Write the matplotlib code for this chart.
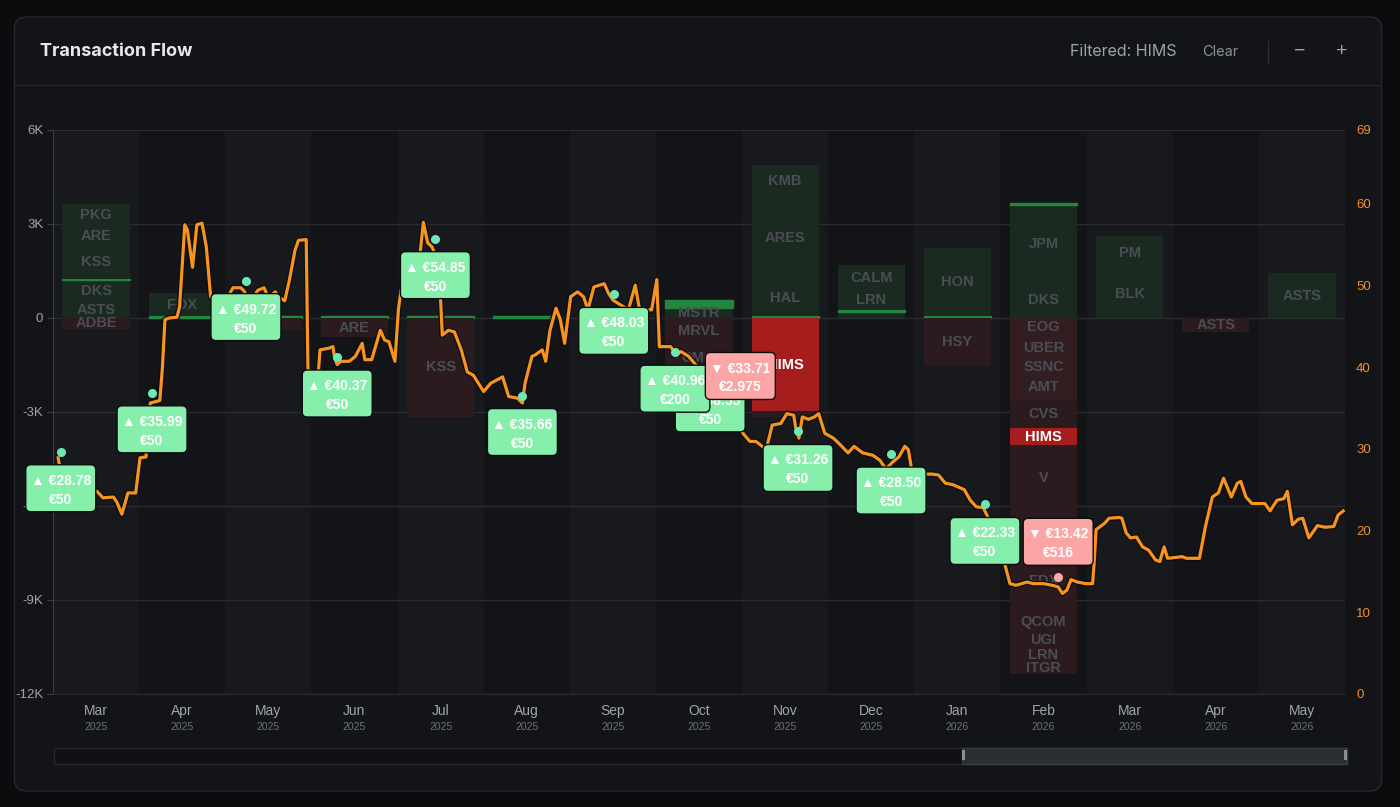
import matplotlib
matplotlib.use('Agg')
import matplotlib.pyplot as plt
import matplotlib.patches as mpatches
import matplotlib.transforms as mtransforms
import matplotlib.patheffects as pe
from matplotlib.lines import Line2D

W, H = 1400, 807

months = ['Mar', 'Apr', 'May', 'Jun', 'Jul', 'Aug', 'Sep', 'Oct', 'Nov', 'Dec',
          'Jan', 'Feb', 'Mar', 'Apr', 'May']
years = ['2025'] * 10 + ['2026'] * 5

# monthly flow per ticker (EUR), buys stacked up from 0, sells stacked down
pos_tickers = [['ASTS', 'DKS', 'HIMS', 'KSS', 'ARE', 'PKG'], ['HIMS', 'FOX'], ['HIMS'],
               ['HIMS'], ['HIMS'], ['HIMS'], ['HIMS'], ['MSTR', 'HIMS'],
               ['HIMS', 'HAL', 'ARES', 'KMB'], ['', 'HIMS', 'LRN', 'CALM'], ['HIMS', 'HON'],
               ['DKS', 'JPM', 'HIMS'], ['BLK', 'PM'], [], ['ASTS']]
pos_values = [[540, 670, 50, 1030, 640, 700], [50, 750], [50],
              [50], [50], [50], [50], [320, 250],
              [50, 1160, 2680, 990], [200, 50, 620, 830], [50, 2180],
              [1120, 2490, 50], [1530, 1090], [], [1430]]
neg_tickers = [['ADBE'], [], [''], ['ARE'], ['KSS'], [], [], ['MRVL', 'CMG', ''],
               ['HIMS', ''], [], ['HSY'],
               ['EOG', 'UBER', 'SSNC', 'AMT', 'CVS', 'HIMS', 'V', '', 'FDX', 'QCOM', 'UGI', 'LRN', 'ITGR'],
               [], ['ASTS'], []]
neg_values = [[350], [], [380], [610], [3150], [], [], [860, 830, 600],
              [2975, 200], [], [1530],
              [606, 702, 543, 724, 951, 516, 2106, 1245, 1979, 638, 543, 415, 383],
              [], [450], []]

# HIMS price, x in months since 1 Mar 2025
line_t = [0.06, 0.12, 0.27, 0.44, 0.51, 0.58, 0.70, 0.74, 0.80, 0.87,
          0.96, 1.01, 1.08, 1.10, 1.13, 1.24, 1.27, 1.30, 1.35, 1.44,
          1.47, 1.53, 1.56, 1.62, 1.67, 1.73, 1.78, 1.83, 1.89, 2.01,
          2.09, 2.18, 2.21, 2.26, 2.32, 2.38, 2.45, 2.50, 2.58, 2.62,
          2.69, 2.74, 2.81, 2.85, 2.94, 2.96, 3.08, 3.10, 3.20, 3.25,
          3.27, 3.30, 3.34, 3.44, 3.51, 3.59, 3.62, 3.70, 3.80, 3.85,
          3.90, 3.97, 4.01, 4.04, 4.15, 4.26, 4.30, 4.35, 4.40, 4.44,
          4.50, 4.52, 4.59, 4.66, 4.74, 4.81, 4.88, 5.00, 5.08, 5.15,
          5.22, 5.29, 5.39, 5.45, 5.48, 5.56, 5.60, 5.68, 5.72, 5.77,
          5.84, 5.89, 5.94, 6.01, 6.09, 6.16, 6.21, 6.28, 6.40, 6.45,
          6.50, 6.59, 6.68, 6.76, 6.81, 6.95, 7.01, 7.04, 7.17, 7.24,
          7.29, 7.38, 7.46, 7.54, 7.69, 7.84, 8.01, 8.09, 8.16, 8.21,
          8.28, 8.35, 8.45, 8.52, 8.60, 8.62, 8.66, 8.70, 8.77, 8.84,
          8.89, 8.96, 9.06, 9.14, 9.23, 9.30, 9.40, 9.52, 9.60, 9.67,
          9.75, 9.82, 9.89, 9.93, 9.97, 10.04, 10.14, 10.21, 10.28, 10.36,
          10.45, 10.58, 10.65, 10.72, 10.80, 10.87, 10.97, 11.06, 11.11, 11.18,
          11.31, 11.38, 11.50, 11.60, 11.67, 11.72, 11.77, 11.82, 11.89, 11.99,
          12.07, 12.09, 12.11, 12.16, 12.21, 12.26, 12.38, 12.41, 12.46, 12.51,
          12.58, 12.65, 12.72, 12.80, 12.85, 12.90, 12.94, 13.02, 13.11, 13.16,
          13.31, 13.38, 13.46, 13.53, 13.59, 13.68, 13.75, 13.79, 13.85, 13.92,
          14.07, 14.13, 14.21, 14.29, 14.33, 14.39, 14.46, 14.51, 14.58, 14.68,
          14.77, 14.87, 14.92, 14.98]
line_p = [28.9, 25.2, 25.0, 25.0, 24.8, 24.0, 24.1, 23.5, 22.0, 24.6,
          24.6, 28.9, 29.0, 32.3, 35.6, 35.9, 39.9, 45.8, 46.0, 46.1,
          47.4, 57.4, 56.8, 52.2, 57.4, 57.6, 54.7, 48.6, 48.2, 48.2,
          49.7, 49.7, 49.4, 48.6, 48.5, 49.4, 49.7, 48.5, 49.2, 48.6,
          48.1, 50.4, 54.3, 55.5, 55.6, 39.6, 39.2, 42.1, 42.3, 42.5,
          41.1, 40.3, 40.7, 40.7, 41.3, 42.9, 40.9, 40.9, 44.5, 43.3,
          43.1, 40.7, 47.0, 49.4, 51.3, 53.7, 57.7, 55.2, 54.7, 53.7,
          48.2, 43.9, 44.5, 44.3, 42.1, 39.4, 39.0, 37.0, 38.0, 38.4,
          38.8, 36.4, 36.2, 35.6, 38.0, 41.3, 41.5, 42.1, 40.7, 44.5,
          47.2, 45.8, 42.9, 48.6, 49.2, 48.6, 47.0, 49.8, 50.2, 49.0,
          48.2, 47.6, 47.0, 50.0, 47.0, 47.0, 50.7, 42.5, 42.5, 41.5,
          41.9, 41.3, 40.3, 39.3, 37.8, 35.4, 31.9, 30.9, 30.9, 30.5,
          29.9, 32.9, 33.1, 34.3, 34.1, 32.7, 31.3, 33.9, 33.6, 33.9,
          34.3, 31.9, 31.3, 30.5, 29.5, 30.3, 29.5, 29.2, 28.6, 27.5,
          28.4, 29.0, 30.3, 29.9, 27.4, 27.2, 26.9, 26.9, 26.8, 25.8,
          25.6, 25.0, 23.7, 22.9, 22.8, 21.3, 18.8, 15.5, 13.5, 13.3,
          13.7, 13.5, 13.5, 13.3, 13.1, 12.3, 12.7, 14.0, 13.7, 13.5,
          13.5, 16.4, 20.1, 20.5, 20.9, 21.5, 21.6, 21.5, 19.7, 19.1,
          19.2, 18.0, 17.6, 16.4, 16.2, 18.0, 16.6, 16.7, 16.8, 16.6,
          16.6, 20.5, 24.1, 24.6, 26.4, 24.1, 25.8, 26.0, 24.1, 23.3,
          23.3, 22.4, 23.7, 23.9, 24.8, 20.7, 21.4, 21.5, 19.1, 20.6,
          20.4, 20.5, 21.9, 22.4]

trade_t = [0.09, 1.15, 2.24, 3.30, 4.44, 5.45, 6.51, 7.22, 7.63, 7.98, 8.65, 9.73, 10.82, 11.67]
trade_price = [28.78, 35.99, 49.72, 40.37, 54.85, 35.66, 48.03, 40.96, 38.55, 33.71, 31.26, 28.50, 22.33, 13.42]
trade_amount = [50, 50, 50, 50, 50, 50, 50, 200, 50, 2975, 50, 50, 50, 516]
trade_side = ['buy'] * 9 + ['sell'] + ['buy'] * 3 + ['sell']

left_ticks = [-12000, -9000, -6000, -3000, 0, 3000, 6000]
left_labels = ['-12K', '-9K', '-6K', '-3K', '0', '3K', '6K']
right_ticks = [0, 10, 20, 30, 40, 50, 60, 69]

BG = '#0b0c0e'
CARD = '#131417'
BAND = '#18191d'
GRID = '#2a2c31'
GREEN_DIM = '#1a2a21'
RED_DIM = '#2b1b1e'
RED_DIM2 = '#321e21'
GREEN_HI = '#23863f'
RED_HI = '#a51d1d'
SEG_TXT = '#4a4d53'
ORANGE = '#f7931e'
BUY_BOX = '#86efac'
SELL_BOX = '#fca5a5'

plt.rcParams['font.family'] = ['Liberation Sans', 'DejaVu Sans']

fig = plt.figure(figsize=(W / 100, H / 100), dpi=100)
fig.patch.set_facecolor(BG)
ident = mtransforms.IdentityTransform()

# card + header
card = mpatches.FancyBboxPatch((14.5, H - 791), 1367, 774, boxstyle='round,pad=0,rounding_size=12',
                               transform=ident, fc=CARD, ec='#26282d', lw=1, zorder=-10)
fig.add_artist(card)
fig.add_artist(Line2D([15, 1381], [H - 85, H - 85], transform=ident, color='#24262a', lw=1))
fig.text(40 / W, 1 - 52 / H, 'Transaction Flow', color='#e6e8eb', fontsize=13,
         fontweight='bold', family=['Inter', 'DejaVu Sans'], va='center')
fig.text(1177 / W, 1 - 52 / H, 'Filtered: HIMS', color='#9ca3af', fontsize=11.5,
         family=['Inter', 'DejaVu Sans'], va='center', ha='right')
fig.text(1220 / W, 1 - 52 / H, 'Clear', color='#8b9099', fontsize=10.5,
         family=['Inter', 'DejaVu Sans'], va='center', ha='center')
fig.add_artist(Line2D([1268, 1268], [H - 41, H - 63], transform=ident, color='#2a2c31', lw=1))
fig.text(1300 / W, 1 - 51 / H, '\u2212', color='#9ca3af', fontsize=14, va='center', ha='center')
fig.text(1342 / W, 1 - 51 / H, '+', color='#9ca3af', fontsize=14, va='center', ha='center')

# scrollbar
fig.add_artist(mpatches.Rectangle((53.5, H - 763.5), 1293, 16, transform=ident,
                                  fc='#0f1013', ec='#26282d', lw=1))
fig.add_artist(mpatches.Rectangle((962, H - 763.5), 384.5, 16, transform=ident,
                                  fc='#2b2e33', ec='#3a3d42', lw=1))
for gx in (961.5, 1344):
    fig.add_artist(mpatches.Rectangle((gx, H - 760), 3, 10, transform=ident,
                                      fc='#8a8f96', ec='none'))

ax = fig.add_axes([53 / W, 1 - 694 / H, (1345 - 53) / W, (694 - 130) / H])
ax.set_facecolor(CARD)
ax.set_xlim(0, len(months))
ax.set_ylim(-12000, 6000)
for i in range(0, len(months), 2):
    ax.axvspan(i, i + 1, color=BAND, lw=0, zorder=0)
for yv in left_ticks:
    ax.axhline(yv, color=GRID, lw=1, zorder=0.5)

bar_w = 0.78
seg_font = dict(fontsize=10.5, fontweight='bold', ha='center', va='center', zorder=3)
for i in range(len(months)):
    x = i + 0.5
    base = 0
    for tk, v in zip(pos_tickers[i], pos_values[i]):
        hl = tk == 'HIMS'
        col = GREEN_HI if hl else GREEN_DIM
        ax.bar(x, v, bottom=base, width=bar_w, color=col, ec=col, lw=1 if hl else 0, zorder=2)
        if tk and v >= 300:
            ax.text(x, base + v / 2, tk, color=SEG_TXT, **seg_font)
        base += v
    base = 0
    for tk, v in zip(neg_tickers[i], neg_values[i]):
        hl = tk == 'HIMS'
        col = RED_HI if hl else (RED_DIM2 if base > -2500 and len(neg_values[i]) > 5 else RED_DIM)
        ax.bar(x, -v, bottom=base, width=bar_w, color=col, lw=0, zorder=2)
        if tk and v >= 300:
            ax.text(x, base - v / 2, tk, color='white' if hl else SEG_TXT, **seg_font)
        base -= v

ax.set_yticks(left_ticks, left_labels)
ax.tick_params(axis='y', colors='#3a3d42', labelcolor='#a0a4ab', labelsize=9.5, length=4, pad=3)
ax.set_xticks([])
for s in ('top', 'right'):
    ax.spines[s].set_visible(False)
ax.spines['left'].set_color('#3a3d42')
ax.spines['bottom'].set_color(GRID)

xt = ax.get_xaxis_transform()
for i, (m, yr) in enumerate(zip(months, years)):
    ax.text(i + 0.5, -0.030, m, transform=xt, ha='center', va='center', color='#a0a4ab', fontsize=10)
    ax.text(i + 0.5, -0.058, yr, transform=xt, ha='center', va='center', color='#6b7078', fontsize=7.5)

# price axis
ax2 = ax.twinx()
ax2.set_ylim(0, 69)
ax2.set_yticks(right_ticks)
ax2.tick_params(axis='y', length=0, labelcolor='#f0902a', labelsize=9.5, pad=8)
for s in ax2.spines.values():
    s.set_visible(False)

ax2.plot(line_t, line_p, color=ORANGE, lw=2.3, solid_joinstyle='round', zorder=3,
         path_effects=[pe.Stroke(linewidth=4.2, foreground='#0d0e10'), pe.Normal()])

# trade markers and tooltips
pin_off = mtransforms.ScaledTranslation(0, 0.07, fig.dpi_scale_trans)
order = [k for k in reversed(range(len(trade_t))) if trade_side[k] == 'buy'] + \
        [k for k in range(len(trade_t)) if trade_side[k] == 'sell']
for k in range(len(trade_t)):
    buy = trade_side[k] == 'buy'
    ax2.plot(trade_t[k], trade_price[k], 'o', ms=6.5, color='#6ee7b7' if buy else '#f9a8a8',
             mec='none', transform=ax2.transData + pin_off, zorder=5, clip_on=False)

for z, k in enumerate(order):
    buy = trade_side[k] == 'buy'
    tr = fig.dpi_scale_trans + mtransforms.ScaledTranslation(trade_t[k], trade_price[k], ax2.transData)
    top = -0.06 if buy else 0.66
    box = mpatches.FancyBboxPatch((-0.35, top - 0.47), 0.70, 0.47,
                                  boxstyle='round,pad=0,rounding_size=0.05', transform=tr,
                                  fc=BUY_BOX if buy else SELL_BOX, ec='#0b0c0e', lw=1,
                                  zorder=10 + z, clip_on=False)
    ax2.add_patch(box)
    head = ('\u25B2 ' if buy else '\u25BC ') + '\u20AC{:.2f}'.format(trade_price[k])
    amt = '\u20AC' + '{:,}'.format(trade_amount[k]).replace(',', '.')
    ax2.text(0, top - 0.16, head, transform=tr, ha='center', va='center', color='white',
             fontsize=10, fontweight='bold', zorder=10 + z, clip_on=False)
    ax2.text(0, top - 0.35, amt, transform=tr, ha='center', va='center', color='white',
             fontsize=10, fontweight='bold', zorder=10 + z, clip_on=False)

fig.savefig('out.png', dpi=100, facecolor=BG)
